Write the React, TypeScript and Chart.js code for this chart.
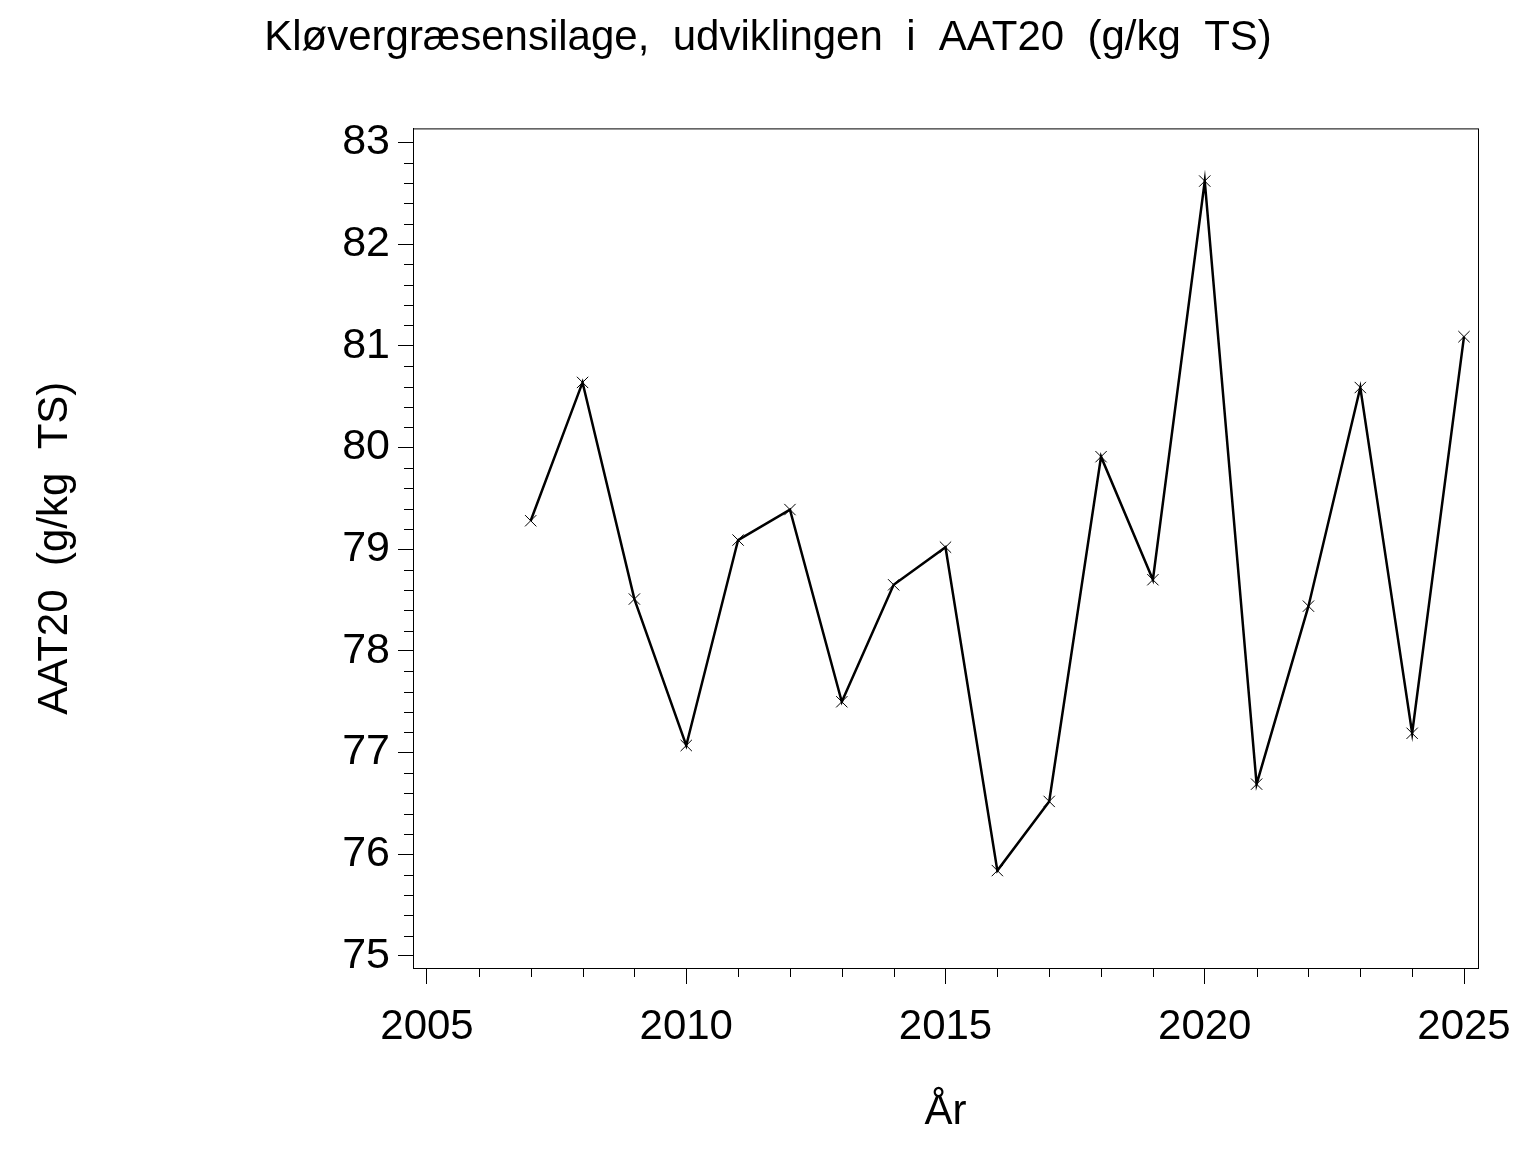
import React, { useEffect, useRef } from "react";
import { Chart, registerables } from "chart.js";

Chart.register(...registerables);

const years = [2007, 2008, 2009, 2010, 2011, 2012, 2013, 2014, 2015, 2016, 2017, 2018, 2019, 2020, 2021, 2022, 2023, 2024, 2025];
const aat20 = [79.28, 80.64, 78.51, 77.07, 79.09, 79.39, 77.5, 78.65, 79.02, 75.84, 76.52, 79.91, 78.7, 82.62, 76.69, 78.44, 80.59, 77.19, 81.09];
const xMajorTicks = [2005, 2010, 2015, 2020, 2025];
const yMajorTicks = [75, 76, 77, 78, 79, 80, 81, 82, 83];
const titleText = "Kløvergræsensilage,  udviklingen  i  AAT20  (g/kg  TS)";
const yTitle = "AAT20  (g/kg  TS)";
const xTitle = "År";

const FONT = "'Liberation Sans', Arial, sans-serif";

const framePlugin = {
  id: "frameMinor",
  afterDraw(chart: any) {
    const { ctx, chartArea } = chart;
    const xs = chart.scales.x;
    const ys = chart.scales.y;
    ctx.save();
    ctx.strokeStyle = "#000";
    ctx.lineWidth = 1;
    ctx.strokeRect(chartArea.left + 0.5, chartArea.top + 0.5, chartArea.right - chartArea.left, chartArea.bottom - chartArea.top);
    ctx.beginPath();
    for (let v = 2005; v <= 2025; v += 1) {
      if (v % 5 === 0) continue;
      const px = Math.round(xs.getPixelForValue(v)) + 0.5;
      ctx.moveTo(px, chartArea.bottom);
      ctx.lineTo(px, chartArea.bottom + 9);
    }
    for (let i = 0; i <= 40; i++) {
      if (i % 5 === 0) continue;
      const v = 75 + i * 0.2;
      const py = Math.round(ys.getPixelForValue(v)) + 0.5;
      ctx.moveTo(chartArea.left, py);
      ctx.lineTo(chartArea.left - 9, py);
    }
    ctx.stroke();
    ctx.restore();
  },
};

export default function App() {
  const ref = useRef<HTMLCanvasElement | null>(null);
  useEffect(() => {
    if (!ref.current) return;
    const chart = new Chart(ref.current, {
      type: "line",
      data: {
        datasets: [
          {
            data: years.map((y, i) => ({ x: y, y: aat20[i] })),
            borderColor: "#000",
            borderWidth: 2.5,
            pointStyle: "crossRot",
            pointRadius: 8,
            pointBorderWidth: 1,
            pointBorderColor: "#000",
            tension: 0,
          },
        ],
      },
      options: {
        animation: false,
        responsive: false,
        maintainAspectRatio: false,
        layout: { padding: 0 },
        plugins: {
          legend: { display: false },
          tooltip: { enabled: false },
          title: {
            display: true,
            text: titleText,
            color: "#000",
            font: { family: FONT, size: 42, weight: "normal" },
            padding: { top: 13, bottom: 65 },
          },
        },
        scales: {
          x: {
            type: "linear",
            min: 2004.73,
            max: 2025.27,
            afterBuildTicks: (s: any) => {
              s.ticks = xMajorTicks.map((v) => ({ value: v }));
            },
            afterFit: (s: any) => {
              s.height = 184;
            },
            grid: { drawOnChartArea: false, drawTicks: true, tickLength: 16, color: "#000" },
            border: { display: true, color: "#000", width: 1 },
            ticks: {
              color: "#000",
              font: { family: FONT, size: 42 },
              padding: 18,
              maxRotation: 0,
              autoSkip: false,
              callback: (v: any) => String(v),
            },
            title: {
              display: true,
              text: xTitle,
              color: "#000",
              font: { family: FONT, size: 42 },
              padding: { top: 0, bottom: 14 },
            },
          },
          y: {
            type: "linear",
            min: 74.882,
            max: 83.138,
            afterBuildTicks: (s: any) => {
              s.ticks = yMajorTicks.map((v) => ({ value: v }));
            },
            afterFit: (s: any) => {
              s.width = 413;
            },
            grid: { drawOnChartArea: false, drawTicks: true, tickLength: 15, color: "#000" },
            border: { display: true, color: "#000", width: 1 },
            ticks: {
              color: "#000",
              font: { family: FONT, size: 43 },
              padding: 8,
              autoSkip: false,
              callback: (v: any) => String(v),
            },
            title: {
              display: true,
              text: yTitle,
              color: "#000",
              font: { family: FONT, size: 42 },
              padding: { top: 30, bottom: 0 },
            },
          },
          yRight: {
            type: "linear",
            position: "right",
            display: true,
            min: 74.882,
            max: 83.138,
            afterFit: (s: any) => {
              s.width = 58;
            },
            grid: { display: false },
            border: { display: false },
            ticks: { display: false },
            title: { display: false },
          },
        },
      },
      plugins: [framePlugin],
    });
    return () => chart.destroy();
  }, []);
  return (
    <div style={{ position: "absolute", left: 0, top: 0, width: 1536, height: 1152, background: "#fff" }}>
      <canvas ref={ref} width={1536} height={1152} style={{ width: 1536, height: 1152 }} />
    </div>
  );
}
